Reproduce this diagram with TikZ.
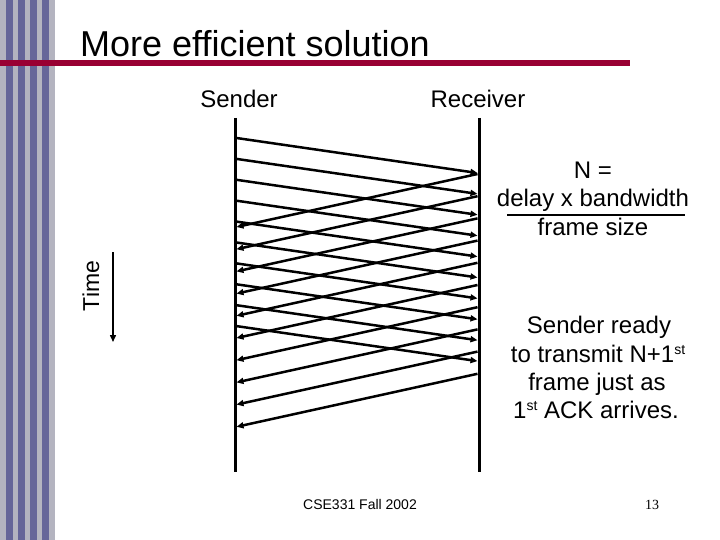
\documentclass[tikz,border=0pt]{standalone}
\usepackage{fontspec}
\setmainfont{Liberation Sans}
\newfontfamily\serifnum{Liberation Serif}
\usetikzlibrary{arrows.meta}
\definecolor{stripegray}{RGB}{180,180,192}
\definecolor{stripeblue}{RGB}{102,102,153}
\definecolor{titlered}{RGB}{153,0,51}
\newcommand\ordsup[1]{\raisebox{7.5pt}{\fontsize{14}{14}\selectfont #1}}
\begin{document}
\begin{tikzpicture}[x=1pt,y=-1pt,
  lifeline/.style={line width=3pt},
  msg/.style={line width=2.5pt,-{Triangle[length=7pt,width=6pt]}},
  lbl/.style={font=\fontsize{24}{28}\selectfont,anchor=base,inner sep=0pt},
  ]
\useasboundingbox (0,0) rectangle (720,540);
\fill[white] (0,0) rectangle (720,540);
% left border stripes
\fill[stripegray] (0,0) rectangle (55,540);
\foreach \x in {6,18,30,42} \fill[stripeblue] (\x,0) rectangle (\x+7,540);
\fill[titlered] (0,60) rectangle (630,66);
% title
\node[anchor=base west, inner sep=0pt, font=\fontsize{36}{40}\selectfont] (title) at (80,57) {More efficient solution};
% headings
\node[lbl] (sender) at (239,108) {Sender};
\node[lbl] (receiver) at (478,108) {Receiver};
% lifelines
\coordinate (stop) at (235,118);
\coordinate (sbot) at (235,472);
\coordinate (rtop) at (479,118);
\coordinate (rbot) at (479,472);
\draw[lifeline] (stop) -- (sbot);
\draw[lifeline] (rtop) -- (rbot);
% frames
\foreach \i in {0,...,9} {
  \coordinate (fs\i) at (236.5,{138+20.9*\i});
  \coordinate (fe\i) at (477.5,{173+20.9*\i});
  \draw[msg] (fs\i) -- (fe\i);
}
% acks
\foreach \i in {0,...,9} {
  \coordinate (as\i) at (477.5,{174+22.2*\i});
  \coordinate (ae\i) at (236.5,{227+22.2*\i});
  \draw[msg] (as\i) -- (ae\i);
}
% time axis
\node[rotate=90, inner sep=0pt, font=\fontsize{23}{27}\selectfont] (time) at (91,286) {Time};
\coordinate (t1) at (113,252);
\coordinate (t2) at (113,342);
\draw[line width=1.5pt,-{Triangle[length=7pt,width=6pt]}] (t1) -- (t2);
% formula
\node[lbl] (n1) at (593,179) {N =};
\node[lbl] (n2) at (593,207) {delay x bandwidth};
\coordinate (fl1) at (507,215);
\coordinate (fl2) at (685,215);
\draw[line width=2.5pt] (fl1) -- (fl2);
\node[lbl] (n3) at (593,236) {frame size};
% note
\node[lbl] (s1) at (599,333) {Sender ready};
\node[lbl] (s2) at (598,362) {to transmit N+1\ordsup{st}};
\node[lbl] (s3) at (597,390) {frame just as};
\node[lbl] (s4) at (596,418) {1\ordsup{st} ACK arrives.};
% footer
\node[anchor=base west, inner sep=0pt, font=\fontsize{14}{16}\selectfont] (foot) at (303,509) {CSE331 Fall 2002};
\node[anchor=base, inner sep=0pt, font=\serifnum\fontsize{14}{16}\selectfont] (pg) at (652,509) {13};
\end{tikzpicture}
\end{document}
